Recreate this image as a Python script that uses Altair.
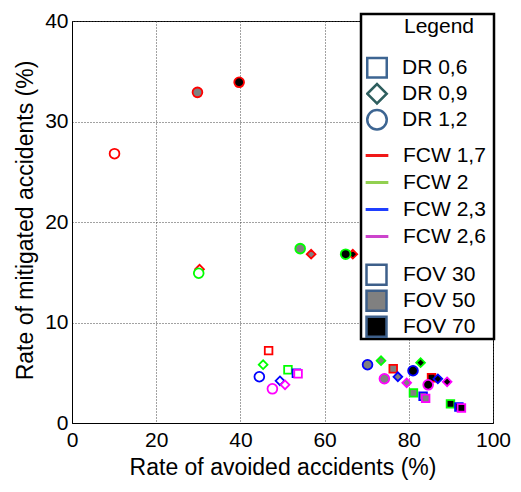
import altair as alt
import pandas as pd

# Categories
fcw_labels = ["FCW 1,7", "FCW 2", "FCW 2,3", "FCW 2,6"]
dr_labels = ["DR 0,6", "DR 0,9", "DR 1,2"]
fov_labels = ["FOV 30", "FOV 50", "FOV 70"]

# Values, ordered FCW -> DR -> FOV
avoided = [
    # FCW 1,7
    46.7, 76.3, 85.4,   30.3, 56.8, 66.7,   10.1, 29.8, 39.7,
    # FCW 2
    51.3, 81.1, 89.9,   45.4, 73.4, 82.8,   30.1, 54.2, 65.0,
    # FCW 2,3
    53.3, 83.4, 91.9,   49.4, 77.4, 86.9,   44.5, 70.2, 81.0,
    # FCW 2,6
    53.7, 84.0, 92.5,   50.6, 79.5, 89.1,   47.6, 74.2, 84.6,
]
mitigated = [
    7.2, 5.4, 4.5,      15.3, 16.8, 16.8,   26.8, 32.9, 33.9,
    5.3, 3.0, 1.9,      5.8, 6.2, 6.0,      14.9, 17.35, 16.8,
    4.95, 2.66, 1.6,    4.2, 4.6, 4.4,      4.6, 5.8, 5.2,
    4.9, 2.45, 1.5,     3.8, 4.0, 4.1,      3.4, 4.4, 3.8,
]

x_ticks = [0, 20, 40, 60, 80, 100]
y_ticks = [0, 10, 20, 30, 40]
legend_title = ["Legend"]

point_fcw, point_dr, point_fov = [], [], []
for f in fcw_labels:
    for d in dr_labels:
        for v in fov_labels:
            point_fcw.append(f)
            point_dr.append(d)
            point_fov.append(v)

df = pd.DataFrame({
    "avoided": avoided, "mitigated": mitigated,
    "FCW": point_fcw, "DR": point_dr, "FOV": point_fov,
})

FONT = "Liberation Sans"
mark_colors = ["#FF0000", "#00FF00", "#0000FF", "#FF00FF"]
legend_line_colors = ["#F01818", "#92D050", "#1F3FFF", "#CC44CC"]
fov_fills = ["white", "#808080", "black"]

points = alt.Chart(df).mark_point(filled=True, opacity=1, strokeWidth=1.8).encode(
    x=alt.X("avoided:Q", title="Rate of avoided accidents (%)",
            scale=alt.Scale(domain=[0, 100], nice=False),
            axis=alt.Axis(values=x_ticks, labelFlush=False, ticks=False, labelPadding=6,
                          titleBaseline="alphabetic", titleY=51, titleX=210.5,
                          titleAlign="center", titleFontSize=23)),
    y=alt.Y("mitigated:Q", title="Rate of mitigated accidents (%)",
            scale=alt.Scale(domain=[0, 40], nice=False),
            axis=alt.Axis(values=y_ticks, labelFlush=False, ticks=False, labelPadding=4,
                          titleX=-47, titleY=199, titleBaseline="middle", titleAngle=-90)),
    shape=alt.Shape("DR:N", scale=alt.Scale(domain=dr_labels, range=["square", "diamond", "circle"]), legend=None),
    size=alt.Size("DR:O", scale=alt.Scale(domain=dr_labels, range=[58, 95, 62]), legend=None),
    stroke=alt.Stroke("FCW:N", scale=alt.Scale(domain=fcw_labels, range=mark_colors), legend=None),
    fill=alt.Fill("FOV:N", scale=alt.Scale(domain=fov_labels, range=fov_fills), legend=None),
)

box = alt.Chart(pd.DataFrame({"k": [0]})).mark_rect(
    fill="white", stroke="black", strokeWidth=2.5
).encode(x=alt.value(289), x2=alt.value(422), y=alt.value(-7), y2=alt.value(318))

title_text = alt.Chart(pd.DataFrame({"t": legend_title})).mark_text(
    font=FONT, fontSize=21, color="black", align="center", baseline="alphabetic"
).encode(text="t:N", x=alt.value(367), y=alt.value(12))

empty = alt.Chart(df).transform_filter("false")

dr_legend = alt.Legend(
    title=None, orient="none", legendX=294, legendY=34,
    labelFontSize=21, labelFont=FONT, labelColor="black", labelOffset=14,
    symbolSize=380, symbolStrokeWidth=2.5, symbolFillColor="white", symbolOpacity=1,
    clipHeight=25.5, rowPadding=0,
)
dr_layer = empty.mark_point(filled=False, strokeWidth=2.5, opacity=1).encode(
    shape=alt.Shape("DR:N", scale=alt.Scale(domain=dr_labels, range=["square", "diamond", "circle"]), legend=dr_legend),
    stroke=alt.Stroke("DR:N", scale=alt.Scale(domain=dr_labels, range=["#3D6592", "#2F5F5F", "#3D6592"]), legend=dr_legend),
)

fcw_layer = empty.mark_point(shape="stroke", filled=False, strokeWidth=3, opacity=1).encode(
    stroke=alt.Stroke("FCW:N", scale=alt.Scale(domain=fcw_labels, range=legend_line_colors),
                      legend=alt.Legend(title=None, orient="none", legendX=292, legendY=121,
                                        symbolType="stroke", symbolSize=515, symbolStrokeWidth=3,
                                        symbolOpacity=1,
                                        labelFontSize=21, labelFont=FONT, labelColor="black",
                                        labelOffset=13, clipHeight=27, rowPadding=0)),
)

fov_layer = empty.mark_square(filled=True, opacity=1, stroke="#3D5F8A", strokeWidth=2.5).encode(
    fill=alt.Fill("FOV:N", scale=alt.Scale(domain=fov_labels, range=fov_fills),
                  legend=alt.Legend(title=None, orient="none", legendX=293, legendY=241,
                                    symbolType="square", symbolSize=400, symbolStrokeWidth=2.5,
                                    symbolStrokeColor="#3D5F8A", symbolOpacity=1,
                                    labelFontSize=21, labelFont=FONT, labelColor="black",
                                    labelOffset=15, clipHeight=25.5, rowPadding=0)),
)

chart = alt.layer(points, box, title_text, dr_layer, fcw_layer, fov_layer).resolve_scale(
    shape="independent", stroke="independent", fill="independent", size="independent"
).properties(
    width=421, height=402,
    autosize=alt.AutoSizeParams(type="none"),
    padding={"left": 64, "top": 13, "right": 20, "bottom": 57},
).configure_view(
    stroke="black", strokeWidth=1
).configure_axis(
    labelFont=FONT, labelFontSize=21, labelColor="black",
    titleFont=FONT, titleFontSize=23, titleFontWeight="normal", titleColor="black",
    domainColor="black", domainWidth=1,
    gridColor="#444444", gridDash=[1, 2], gridWidth=1, gridOpacity=1,
)

chart.save("out.html", embed_options={"renderer": "svg", "actions": False})
